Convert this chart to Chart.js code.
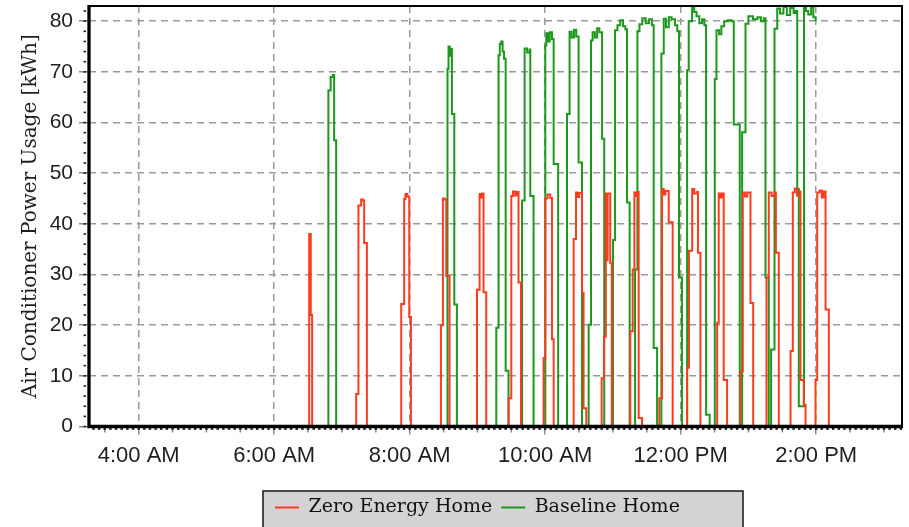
<!DOCTYPE html>
<html>
<head>
<meta charset="utf-8">
<script src="https://cdn.jsdelivr.net/npm/chart.js@4.4.1/dist/chart.umd.min.js"></script>
<style>
  html, body { margin: 0; padding: 0; background: #ffffff; }
  #wrap { width: 909px; height: 527px; }
</style>
</head>
<body>
<div id="wrap"><canvas id="acChart" width="909" height="527"></canvas></div>
<script>
// Time of day is expressed in minutes after midnight.
const timeMin = 196;
const timeMax = 916;
const hourTicks = [240, 360, 480, 600, 720, 840];
const hourLabels = ['4:00 AM', '6:00 AM', '8:00 AM', '10:00 AM', '12:00 PM', '2:00 PM'];
const powerTicks = [0, 10, 20, 30, 40, 50, 60, 70, 80];
const seriesNames = ['Zero Energy Home', 'Baseline Home'];

// Zero Energy Home: each point is the level the unit switches to at that minute.
const zeroTimes = [
  196,
  391, 392.4, 393.6,
  432.6, 434.6, 437, 438.5, 439.7, 442.1,
  472.5, 475.1, 476.3, 478, 479.6, 481.1,
  507.7, 509.4, 511, 512.4, 515.3,
  539.6, 541.9, 543.3, 544.3, 545.4, 547.8,
  567.6, 570, 571.5, 573.5, 575, 576.4, 578.6,
  598.6, 600.1, 602, 604.5, 606, 607.5,
  625.2, 627.3, 628.5, 630, 632.6, 634, 636.4,
  650, 652.1, 653.7, 654.6, 655.3, 657.6, 659,
  675.4, 677.5, 679, 680.5, 682, 682.8, 685.8,
  701.1, 703.5, 705, 706.5, 709.4, 712.9,
  725.7, 727.3, 730.2, 732, 734.6, 735.3, 737.5,
  752.3, 753.7, 755.5, 757, 758.1, 761.1,
  772.9, 775, 777, 779, 781.8, 784.2,
  796, 798, 800.5, 803, 804.3, 806.9,
  817.3, 819.3, 821, 823, 825.5, 826.1, 829, 830.6,
  839.4, 840.9, 843, 845, 846.5, 848.3, 851.2
];
const zeroValues = [
  0,
  38, 22, 0,
  6.4, 43.6, 44.8, 44.6, 36.2, 0,
  24.2, 44.9, 45.9, 45.4, 21.6, 0,
  20, 45, 44.8, 29.7, 0,
  27, 45.9, 45.2, 46, 26.5, 0,
  5.6, 45.5, 46.4, 45.6, 46.3, 28.4, 0,
  13.5, 45, 45.8, 45.1, 17.2, 0,
  37, 46.2, 45.3, 46.1, 26.4, 3.6, 0,
  9.5, 17.7, 46, 32.8, 46, 32.3, 0,
  18.8, 31, 46.2, 45.5, 46.3, 1.7, 0,
  5.6, 46.9, 45.8, 46.5, 40.3, 0,
  11.6, 34.7, 46.9, 46, 46.3, 34.3, 0,
  20.5, 46, 45.2, 46, 9.2, 0,
  10.9, 46.2, 45.4, 46.2, 24.4, 0,
  29.4, 46.2, 45.5, 46.2, 34.3, 0,
  14.9, 46.2, 47, 45.6, 46.4, 9.2, 4.3, 0,
  9.2, 46.2, 46.6, 45.2, 46.4, 23.1, 0
];

// Baseline Home, same layout as above.
const baseTimes = [
  196,
  408, 410, 412, 413.1, 414.9,
  513.5, 514.4, 515.5, 516.5, 517.4, 519.5, 521.8,
  556.7, 558.7, 559.8, 561, 562.3, 563.5, 565, 567.5,
  579.5, 581.8, 584, 586.2, 586.8, 589.7,
  600.1, 601, 602.5, 604, 606, 607.5, 611.5,
  619.3, 621.6, 623.5, 625.5, 627.5, 629.6, 632.6,
  638.5, 640.6, 642, 644, 646, 648, 650.4, 652.3,
  660.1, 661.9, 664, 666.5, 669, 671, 672.5, 674.8,
  679.6, 681.7, 683.5, 686, 689, 692, 694.5, 696.1, 699.1,
  702.9, 705, 707, 709.5, 712, 715, 717, 718.5, 721.1,
  725.7, 727.1, 730.1, 732, 734, 736.5, 739, 741, 742.5, 745.7,
  750.2, 751.7, 754, 756, 758.5, 762, 765, 767, 772.3,
  774.4, 777.4, 780, 784, 788, 791, 793.6, 795.1, 798,
  800.1, 803.1, 805.5, 808, 811, 814, 817, 820, 821.7, 823.2, 824.6,
  829.2, 831, 833, 835.5, 837.5, 839.5
];
const baseValues = [
  0,
  66.3, 69, 69.4, 56.5, 0,
  70.6, 75, 73.2, 74.5, 61.7, 24.1, 0,
  19.5, 73.3, 75.5, 76, 74, 72.6, 11, 0,
  44.6, 74.6, 73.8, 74.4, 45.5, 0,
  75.2, 77.6, 76, 77.8, 76.5, 51.8, 0,
  61.7, 77.9, 76.8, 78.3, 77, 52.1, 0,
  20.1, 76.2, 77.8, 76.8, 78.6, 77.8, 56.8, 0,
  36.8, 78.2, 79.2, 80.2, 79, 78.4, 44.2, 0,
  31, 78, 79.4, 80.6, 79.6, 80.4, 79.2, 15.5, 0,
  73.6, 80.5, 78.8, 80.8, 80.4, 79.2, 78, 29.4, 0,
  70.3, 80, 83, 81.8, 81, 79.6, 80.4, 79.2, 2.3, 0,
  68.6, 78.2, 77.4, 79, 80, 80.2, 80, 59.6, 0,
  58.1, 79.5, 81, 80.4, 80.8, 80, 80.6, 29.4, 0,
  15.2, 78.5, 82.5, 81.5, 82.8, 81.2, 82.6, 81.6, 82, 46.9, 4,
  83, 82, 81.3, 82.8, 80.8, 80
];

const toPoints = (times, values) => times.map((t, i) => ({ x: t, y: values[i] }));

const LEGEND_BOX_WIDTH = 480;

// The plot area is fixed by the axes themselves; no extra edge padding.
const noEdgePadding = (s) => {
  s.paddingTop = 0;
  s.paddingBottom = 0;
  s.paddingLeft = 0;
  s.paddingRight = 0;
};

// Plot frame, minor ticks and the grey legend panel.
const framePlugin = {
  id: 'plotFrame',
  afterLayout(chart) {
    const lg = chart.legend;
    const a = chart.chartArea;
    const boxLeft = Math.round((a.left + a.right) / 2 + 7.5 - LEGEND_BOX_WIDTH / 2);
    const pad = lg.options.labels.padding;
    lg.left = boxLeft + 12 - pad;
    lg.right = boxLeft + LEGEND_BOX_WIDTH;
    lg.width = lg.right - lg.left;
    chart.$legendBoxLeft = boxLeft;
  },
  beforeDraw(chart) {
    const { ctx } = chart;
    const lg = chart.legend;
    const left = chart.$legendBoxLeft;
    ctx.save();
    ctx.fillStyle = '#d3d3d3';
    ctx.fillRect(left, lg.top + 2, LEGEND_BOX_WIDTH, lg.bottom - lg.top + 4);
    ctx.strokeStyle = '#222222';
    ctx.lineWidth = 1.6;
    ctx.strokeRect(left, lg.top + 2, LEGEND_BOX_WIDTH, lg.bottom - lg.top + 4);
    ctx.restore();
  },
  afterDatasetsDraw(chart) {
    const { ctx, chartArea: a, scales } = chart;
    const xs = scales.x, ys = scales.y;
    ctx.save();
    // half-hour minor ticks on the time axis
    ctx.strokeStyle = '#8a8a8a';
    ctx.lineWidth = 1.5;
    for (let t = Math.ceil(timeMin / 30) * 30; t <= timeMax; t += 30) {
      if (hourTicks.includes(t)) continue;
      const px = xs.getPixelForValue(t);
      ctx.beginPath();
      ctx.moveTo(px, a.bottom + 1);
      ctx.lineTo(px, a.bottom + 6);
      ctx.stroke();
    }
    // fine teeth under the time axis
    ctx.fillStyle = '#222222';
    for (let t = Math.ceil(timeMin / 5) * 5; t <= timeMax; t += 5) {
      const px = xs.getPixelForValue(t);
      ctx.fillRect(px - 1.2, a.bottom + 1.2, 2.4, 2.2);
    }
    // fine ticks beside the power axis
    for (let v = 0; v <= 82; v += 2) {
      const py = ys.getPixelForValue(v);
      ctx.fillRect(a.left - 5.5, py - 0.8, 2.5, 1.6);
    }
    // plot outline
    ctx.strokeStyle = '#000000';
    ctx.lineWidth = 2;
    ctx.strokeRect(a.left, a.top, a.right - a.left, a.bottom - a.top);
    ctx.lineWidth = 3.3;
    ctx.beginPath();
    ctx.moveTo(a.left, a.top - 1);
    ctx.lineTo(a.left, a.bottom + 1.6);
    ctx.moveTo(a.left - 1.6, a.bottom);
    ctx.lineTo(a.right + 1, a.bottom);
    ctx.stroke();
    ctx.restore();
  }
};

const gridStyle = {
  color: '#9a9a9a',
  lineWidth: 1.5,
  tickColor: '#8a8a8a',
  tickWidth: 1.5
};

new Chart(document.getElementById('acChart'), {
  type: 'line',
  data: {
    datasets: [
      {
        label: seriesNames[0],
        data: toPoints(zeroTimes, zeroValues),
        borderColor: '#ff3b1f',
        backgroundColor: '#ff3b1f',
        borderWidth: 2,
        stepped: true,
        pointRadius: 0,
        fill: false
      },
      {
        label: seriesNames[1],
        data: toPoints(baseTimes, baseValues),
        borderColor: '#1c981c',
        backgroundColor: '#1c981c',
        borderWidth: 2,
        stepped: true,
        pointRadius: 0,
        fill: false
      }
    ]
  },
  options: {
    responsive: false,
    animation: false,
    devicePixelRatio: 1,
    events: [],
    layout: { padding: { left: 0, right: 7, top: 6, bottom: 0 } },
    scales: {
      x: {
        type: 'linear',
        min: timeMin,
        max: timeMax,
        afterBuildTicks: (s) => { s.ticks = hourTicks.map(v => ({ value: v })); },
        afterFit: (s) => { s.height = 62.5; noEdgePadding(s); },
        grid: Object.assign({ tickLength: 8 }, gridStyle),
        border: { display: false, dash: [7, 5] },
        ticks: {
          autoSkip: false,
          maxRotation: 0,
          minRotation: 0,
          padding: 8,
          color: '#1e1e1e',
          font: { family: 'Liberation Sans', size: 22 },
          callback: (v) => hourLabels[hourTicks.indexOf(v)]
        }
      },
      y: {
        min: 0,
        max: 83,
        afterBuildTicks: (s) => { s.ticks = powerTicks.map(v => ({ value: v })); },
        afterFit: (s) => { s.width = 89; noEdgePadding(s); },
        grid: Object.assign({ tickLength: 10 }, gridStyle),
        border: { display: false, dash: [7, 5] },
        ticks: {
          padding: 6,
          color: '#1e1e1e',
          font: { family: 'Liberation Sans', size: 21 }
        },
        title: {
          display: true,
          text: 'Air Conditioner Power Usage [kWh]',
          color: '#1e1e1e',
          font: { family: 'DejaVu Serif', size: 20 },
          padding: { top: 19, bottom: 0 }
        }
      }
    },
    plugins: {
      tooltip: { enabled: false },
      legend: {
        position: 'bottom',
        align: 'start',
        labels: {
          usePointStyle: true,
          pointStyle: 'line',
          pointStyleWidth: 24,
          padding: 9,
          color: '#111111',
          font: { family: 'DejaVu Serif', size: 19 }
        }
      }
    }
  },
  plugins: [framePlugin]
});
</script>
</body>
</html>
